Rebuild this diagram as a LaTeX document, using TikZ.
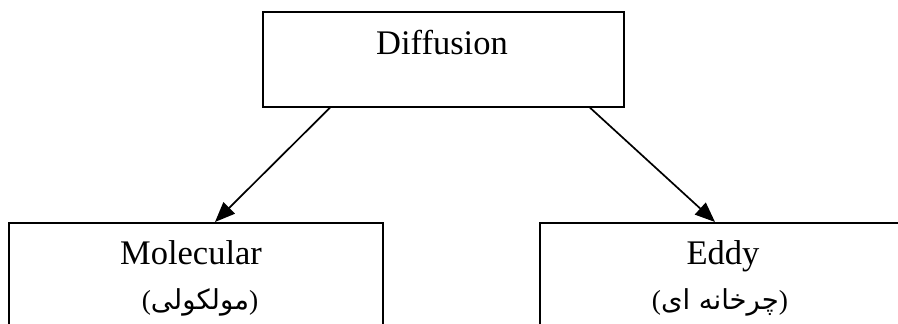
\documentclass[tikz,border=0pt]{standalone}
\usepackage{fontspec}
\setmainfont{Liberation Serif}
\newfontfamily\arabicfont[Script=Arabic]{DejaVu Sans}
\TeXXeTstate=1
\usetikzlibrary{arrows.meta}
\begin{document}
\begin{tikzpicture}[x=1pt,y=1pt,
  box/.style={draw,line width=1.7pt,inner sep=0pt,anchor=north west},
  lbl/.style={anchor=base,inner sep=0pt,font=\fontsize{34.5}{40}\selectfont},
  fa/.style={anchor=base,inner sep=0pt,font=\fontsize{27.5}{32}\selectfont},
  conn/.style={line width=1.7pt,-{Triangle[length=20pt,width=16pt]}}]
\clip (0,0) rectangle (898,324);
\node[box,minimum width=361pt,minimum height=95pt] (top) at (262,313) {};
\node[box,minimum width=374pt,minimum height=140pt] (left) at (8,102) {};
\node[box,minimum width=374pt,minimum height=140pt] (right) at (539,102) {};
\node[lbl] (t1) at (442,269) {Diffusion};
\node[lbl] (t2) at (191,59) {Molecular};
\node[lbl] (t3) at (723,59) {Eddy};
\node[fa] (p2) at (200,14) {({\arabicfont\beginR مولکولی\endR})};
\node[fa] (p3) at (720,14) {({\arabicfont\beginR چرخانه ای\endR})};
\coordinate (a1) at ([xshift=68pt]top.south west);
\coordinate (b1) at ([xshift=207pt]left.north west);
\coordinate (a2) at ([xshift=328pt]top.south west);
\coordinate (b2) at ([xshift=176pt]right.north west);
\draw[conn] (a1) -- (b1);
\draw[conn] (a2) -- (b2);
\end{tikzpicture}
\end{document}
